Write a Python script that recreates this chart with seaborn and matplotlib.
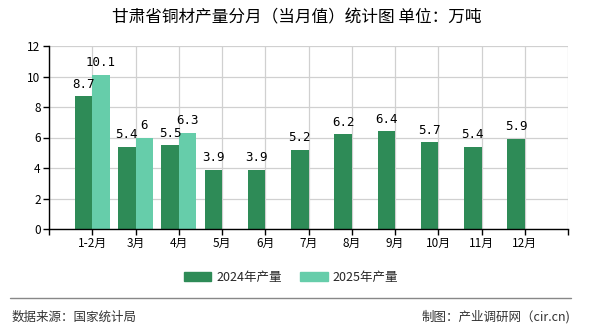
import numpy as np
import pandas as pd
import matplotlib
matplotlib.use("Agg")
import matplotlib.pyplot as plt
from matplotlib.lines import Line2D
import seaborn as sns

categories = ["1-2月", "3月", "4月", "5月", "6月", "7月", "8月", "9月", "10月", "11月", "12月"]
values_2024 = [8.7, 5.4, 5.5, 3.9, 3.9, 5.2, 6.2, 6.4, 5.7, 5.4, 5.9]
values_2025 = [10.1, 6, 6.3, np.nan, np.nan, np.nan, np.nan, np.nan, np.nan, np.nan, np.nan]
series_names = ["2024年产量", "2025年产量"]
colors = ["#2E8B57", "#66CDAA"]
y_ticks = [0, 2, 4, 6, 8, 10, 12]

sns.set_theme(style="white")
plt.rcParams['font.family'] = ['Noto Sans CJK SC', 'DejaVu Sans']

df = pd.DataFrame({
    "month": categories * 2,
    "value": values_2024 + values_2025,
    "series": [series_names[0]] * len(categories) + [series_names[1]] * len(categories),
})

fig = plt.figure(figsize=(5.9, 3.3), dpi=100)
ax = fig.add_axes([49/590, 1 - 229/330, (568-49)/590, (229-46)/330])

sns.barplot(data=df, x="month", y="value", hue="series", order=categories,
            hue_order=series_names, palette=colors, width=0.8, saturation=1,
            linewidth=0, edgecolor="none", ax=ax, legend=False)

for cont in ax.containers:
    ax.bar_label(cont, fmt=lambda v: f"{v:g}", padding=4, fontsize=9,
                 family="DejaVu Sans Mono", color="#000000")

ax.set_xlim(-1, len(categories))
ax.set_xticks(range(-1, len(categories) + 1))
ax.set_xticklabels([""] + categories + [""], fontsize=8.5, color="#000000")
ax.set_ylim(0, 12)
ax.set_yticks(y_ticks)
ax.set_yticklabels([str(t) for t in y_ticks], fontsize=8.5, color="#000000")
ax.set_xlabel("")
ax.set_ylabel("")
ax.grid(True, color="#d0d0d0", linewidth=0.9)
ax.set_axisbelow(True)
for s in ["top", "right"]:
    ax.spines[s].set_visible(False)
for s in ["left", "bottom"]:
    ax.spines[s].set_color("#000000")
    ax.spines[s].set_linewidth(1.0)
ax.tick_params(axis="both", which="both", direction="out", length=4, width=1,
               color="#000000", left=True, bottom=True, pad=2)

fig.text(297/590, 1 - 18/330, "甘肃省铜材产量分月（当月值）统计图 单位：万吨",
         ha="center", va="center", fontsize=12, color="#000000")

handles = [plt.Rectangle((0, 0), 1, 1, color=c) for c in colors]
fig.legend(handles, series_names, loc="center", bbox_to_anchor=(291/590, 1 - 277/330),
           ncol=2, frameon=False, fontsize=9, handlelength=2.2, handleheight=0.7,
           columnspacing=1.5, handletextpad=0.4)

fig.add_artist(Line2D([10/590, 571/590], [1 - 298/330, 1 - 298/330],
                      transform=fig.transFigure, color="#888888", linewidth=1))
fig.text(12/590, 1 - 317/330, "数据来源：国家统计局", ha="left", va="center",
         fontsize=9, color="#333333")
fig.text(570/590, 1 - 317/330, "制图：产业调研网（cir.cn)", ha="right", va="center",
         fontsize=9, color="#333333")

fig.savefig("out.png", dpi=100)
